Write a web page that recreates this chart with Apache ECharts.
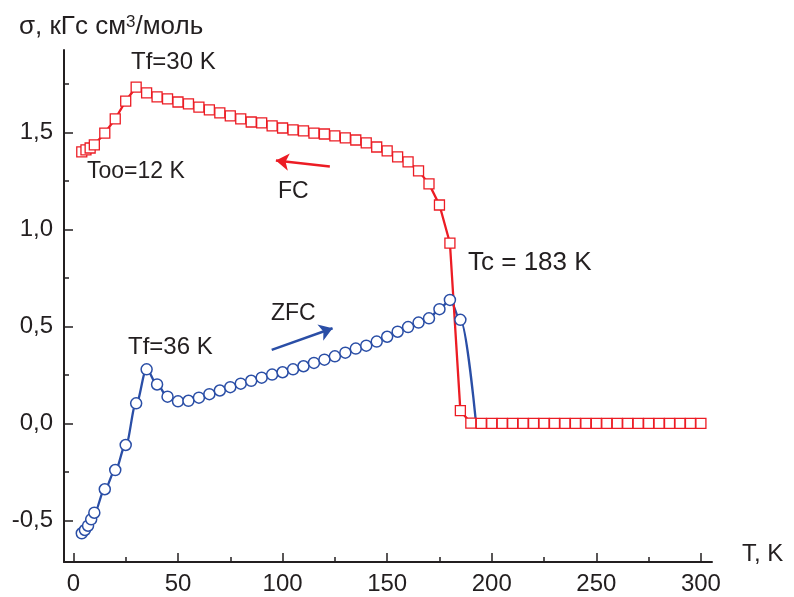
<!DOCTYPE html>
<html>
<head>
    <meta charset="utf-8">
    <title>FC / ZFC</title>
    <script src="https://cdn.jsdelivr.net/npm/echarts@6.0.0/dist/echarts.min.js"></script>
    <style>
        body { margin: 0; background: #fff; }
    </style>
</head>
<body>

<div id="main" style="width: 794px;height:597px;"></div>

<script type="text/javascript">

    // FC (red squares)
    var fcT = [4, 6, 8, 10, 15, 20, 25, 30, 35, 40, 45, 50, 55, 60, 65, 70, 75, 80, 85, 90,
        95, 100, 105, 110, 115, 120, 125, 130, 135, 140, 145, 150, 155, 160, 165, 170, 175, 180, 185, 190,
        195, 200, 205, 210, 215, 220, 225, 230, 235, 240, 245, 250, 255, 260, 265, 270, 275, 280, 285, 290, 295, 300];
    var fcS = [1.400, 1.410, 1.420, 1.436, 1.497, 1.570, 1.662, 1.734, 1.704, 1.683, 1.673, 1.657, 1.647, 1.631, 1.616, 1.601, 1.585, 1.570, 1.554, 1.549,
        1.534, 1.523, 1.513, 1.508, 1.497, 1.492, 1.482, 1.472, 1.461, 1.446, 1.425, 1.405, 1.374, 1.348, 1.302, 1.235, 1.126, 0.930, 0.066, 0.002,
        0, 0, 0, 0, 0, 0, 0, 0, 0, 0, 0, 0, 0, 0, 0, 0, 0, 0, 0, 0, 0, 0];

    // ZFC (blue circles)
    var zfcT = [4, 5.5, 7, 8.5, 10, 15, 20, 25, 30, 35, 40, 45, 50, 55, 60, 65, 70, 75, 80, 85,
        90, 95, 100, 105, 110, 115, 120, 125, 130, 135, 140, 145, 150, 155, 160, 165, 170, 175, 180, 185];
    var zfcS = [-0.566, -0.549, -0.527, -0.494, -0.460, -0.339, -0.240, -0.111, 0.104, 0.279, 0.201, 0.138, 0.114, 0.117, 0.133, 0.151, 0.170, 0.187, 0.205, 0.220,
        0.236, 0.252, 0.264, 0.279, 0.295, 0.312, 0.329, 0.346, 0.365, 0.386, 0.401, 0.422, 0.447, 0.473, 0.497, 0.520, 0.542, 0.589, 0.637, 0.534];
    // конец кривой ZFC без маркера
    var zfcTailT = [192.5];
    var zfcTailS = [0];

    // ticks
    var xMajor = [0, 50, 100, 150, 200, 250, 300];
    var xMinor = [25, 75, 125, 175, 225, 275];
    var yMajor = [-0.5, 0, 0.5, 1.0, 1.5];
    var yMinor = [-0.25, 0.25, 0.75, 1.25, 1.75];

    // arrows [start, end]
    var arrowFC = [[122.6, 1.324], [96.8, 1.355]];
    var arrowZFC = [[94.8, 0.379], [123.9, 0.491]];

    var RED = '#ec1c24';
    var BLUE = '#2a4ea6';
    var INK = '#231f20';
    var FONT = '"Liberation Sans", Arial, sans-serif';

    var fcData = [];
    for (var i = 0; i < fcT.length; i++) {
        fcData.push([fcT[i], fcS[i]]);
    }
    var zfcData = [];
    for (var i = 0; i < zfcT.length; i++) {
        zfcData.push([zfcT[i], zfcS[i]]);
    }
    for (var i = 0; i < zfcTailT.length; i++) {
        zfcData.push({value: [zfcTailT[i], zfcTailS[i]], symbol: 'none'});
    }

    function txt(text, x, y, size) {
        return {
            type: 'text', x: x, y: y, silent: true,
            style: {text: text, font: (size || 24) + 'px ' + FONT, fill: INK, verticalAlign: 'middle'}
        };
    }

    var myChart = echarts.init(document.getElementById('main'));

    var xMin = -4.5, xMax = 305.3;
    var yMin = -0.714, yMax = 1.925;

    myChart.setOption({
        animation: false,
        grid: {left: 64, right: 82, top: 50, bottom: 35},
        xAxis: [
            {
                type: 'value', min: xMin, max: xMax,
                axisLine: {show: true, onZero: false, lineStyle: {color: INK, width: 2}},
                axisTick: {show: true, inside: true, length: 9, lineStyle: {color: INK, width: 1.5}, customValues: xMajor},
                axisLabel: {customValues: xMajor, fontSize: 24, fontFamily: FONT, color: INK, margin: 10},
                splitLine: {show: false}
            },
            {
                type: 'value', min: xMin, max: xMax, position: 'bottom',
                axisLine: {show: false, onZero: false},
                axisTick: {show: true, inside: true, length: 5, lineStyle: {color: INK, width: 1.5}, customValues: xMinor},
                axisLabel: {show: false},
                splitLine: {show: false}
            }
        ],
        yAxis: [
            {
                type: 'value', min: yMin, max: yMax,
                axisLine: {show: true, onZero: false, lineStyle: {color: INK, width: 2}},
                axisTick: {show: true, inside: true, length: 9, lineStyle: {color: INK, width: 1.5}, customValues: yMajor},
                axisLabel: {
                    customValues: yMajor, fontSize: 24, fontFamily: FONT, color: INK, margin: 11,
                    formatter: function (v) { return v.toFixed(1).replace('.', ','); }
                },
                splitLine: {show: false}
            },
            {
                type: 'value', min: yMin, max: yMax, position: 'left',
                axisLine: {show: false, onZero: false},
                axisTick: {show: true, inside: true, length: 5, lineStyle: {color: INK, width: 1.5}, customValues: yMinor},
                axisLabel: {show: false},
                splitLine: {show: false}
            }
        ],
        series: [
            {
                name: 'ZFC', type: 'line', data: zfcData,
                smooth: 0.35, smoothMonotone: 'x',
                symbol: 'circle', symbolSize: 11, showAllSymbol: true,
                lineStyle: {color: BLUE, width: 2.3},
                itemStyle: {color: '#fff', borderColor: BLUE, borderWidth: 1.5},
                markLine: {
                    silent: true, symbol: ['none', 'arrow'], symbolSize: 13,
                    label: {show: false},
                    lineStyle: {color: BLUE, width: 2.5, type: 'solid'},
                    data: [[{coord: arrowZFC[0]}, {coord: arrowZFC[1]}]]
                }
            },
            {
                name: 'FC', type: 'line', data: fcData,
                symbol: 'rect', symbolSize: 10, showAllSymbol: true,
                lineStyle: {color: RED, width: 2.3},
                itemStyle: {color: '#fff', borderColor: RED, borderWidth: 1.3},
                markLine: {
                    silent: true, symbol: ['none', 'arrow'], symbolSize: 13,
                    label: {show: false},
                    lineStyle: {color: RED, width: 2.5, type: 'solid'},
                    data: [[{coord: arrowFC[0]}, {coord: arrowFC[1]}]]
                }
            }
        ],
        graphic: [
            {
                type: 'text', x: 19, y: 27, silent: true,
                style: {
                    text: '{a|σ, кГс см}{s|3}{a|/моль}',
                    fill: INK, verticalAlign: 'middle',
                    rich: {
                        a: {fontSize: 26, fontFamily: FONT, color: INK},
                        s: {fontSize: 17, fontFamily: FONT, color: INK, verticalAlign: 'top', padding: [0, 0, 10, 0]}
                    }
                }
            },
            txt('Tf=30 K', 131, 62),
            txt('Too=12 K', 87, 172, 23),
            txt('FC', 278, 192, 23),
            txt('Tc = 183 K', 468, 263, 26),
            txt('ZFC', 271, 314, 23),
            txt('Tf=36 K', 128, 347),
            txt('T, K', 742, 554)
        ]
    });

</script>
</body>
</html>
